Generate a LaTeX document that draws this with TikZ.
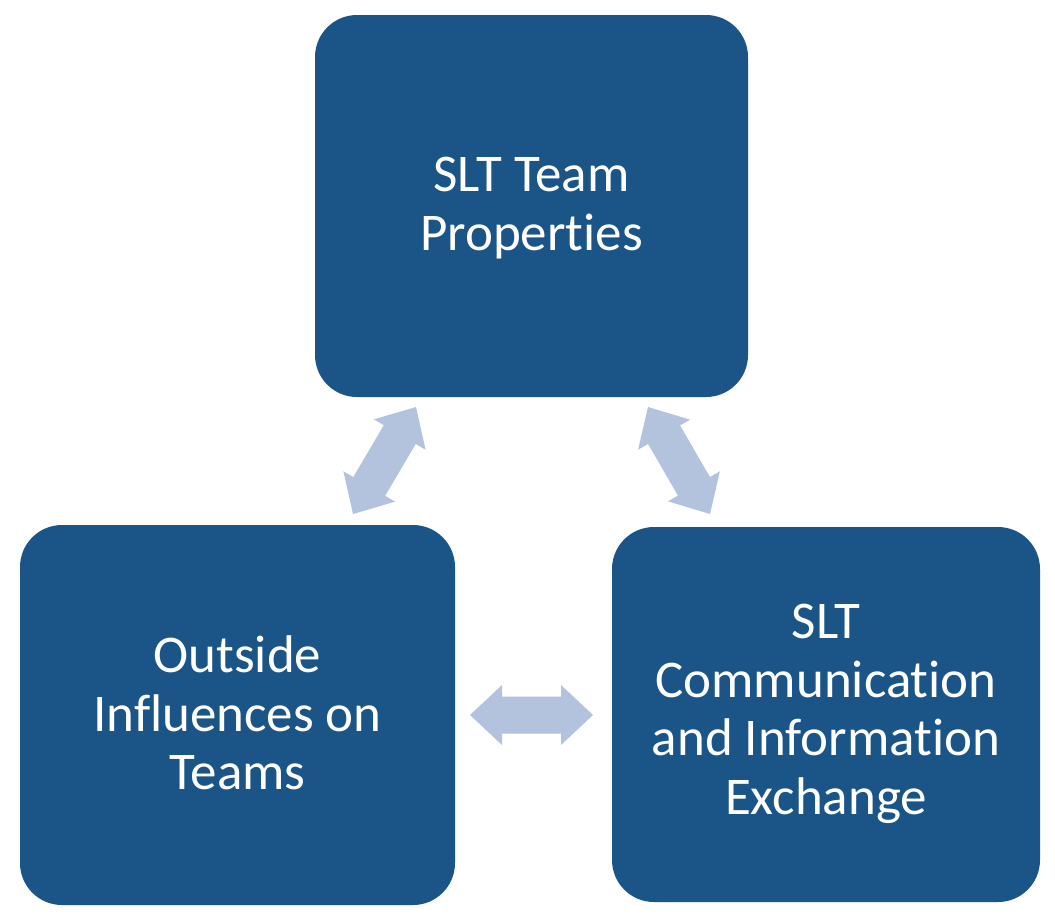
\documentclass[tikz,border=0pt]{standalone}
\usepackage{fontspec}
\setmainfont[Ligatures={NoCommon}]{Carlito}
\usetikzlibrary{calc}
\definecolor{boxblue}{HTML}{1B5587}
\definecolor{arrowc}{HTML}{B3C3DE}
\tikzset{
  bluebox/.style={fill=boxblue, draw=none, rounded corners=42pt},
  boxtext/.style={text=white, align=center, font=\fontsize{53}{58.5}\selectfont},
  dblarrow/.style={fill=arrowc, draw=none}
}
\newcommand\blockarrow[2]{%
  \fill[dblarrow]
    (#1)
    -- ($(#1)!32pt!(#2)!30pt!90:(#2)$)
    -- ($(#1)!32pt!(#2)!18.5pt!90:(#2)$)
    -- ($(#2)!32pt!(#1)!18.5pt!-90:(#1)$)
    -- ($(#2)!32pt!(#1)!30pt!-90:(#1)$)
    -- (#2)
    -- ($(#2)!32pt!(#1)!30pt!90:(#1)$)
    -- ($(#2)!32pt!(#1)!18.5pt!90:(#1)$)
    -- ($(#1)!32pt!(#2)!18.5pt!-90:(#2)$)
    -- ($(#1)!32pt!(#2)!30pt!-90:(#2)$)
    -- cycle;}
\begin{document}
\begin{tikzpicture}[x=1pt,y=-1pt]
\useasboundingbox (0,0) rectangle (1055,922);
% boxes
\fill[bluebox] (315,15) rectangle (748,397);
\fill[bluebox] (20,525) rectangle (455,905);
\fill[bluebox] (612,527) rectangle (1040,902);
\node[boxtext] (top) at (531.5,208) {SLT Team\\Properties};
\node[boxtext] (left) at (237.5,713) {Outside\\Influences on\\Teams};
\node[boxtext] (right) at (826,714) {SLT\\Communication\\and Information\\Exchange};
% arrow end points
\coordinate (l1) at (353,514);
\coordinate (l2) at (416,407);
\coordinate (r1) at (648,407);
\coordinate (r2) at (710,514);
\coordinate (h1) at (470,715);
\coordinate (h2) at (593,715);
\blockarrow{l1}{l2}
\blockarrow{r1}{r2}
\blockarrow{h1}{h2}
\end{tikzpicture}
\end{document}
